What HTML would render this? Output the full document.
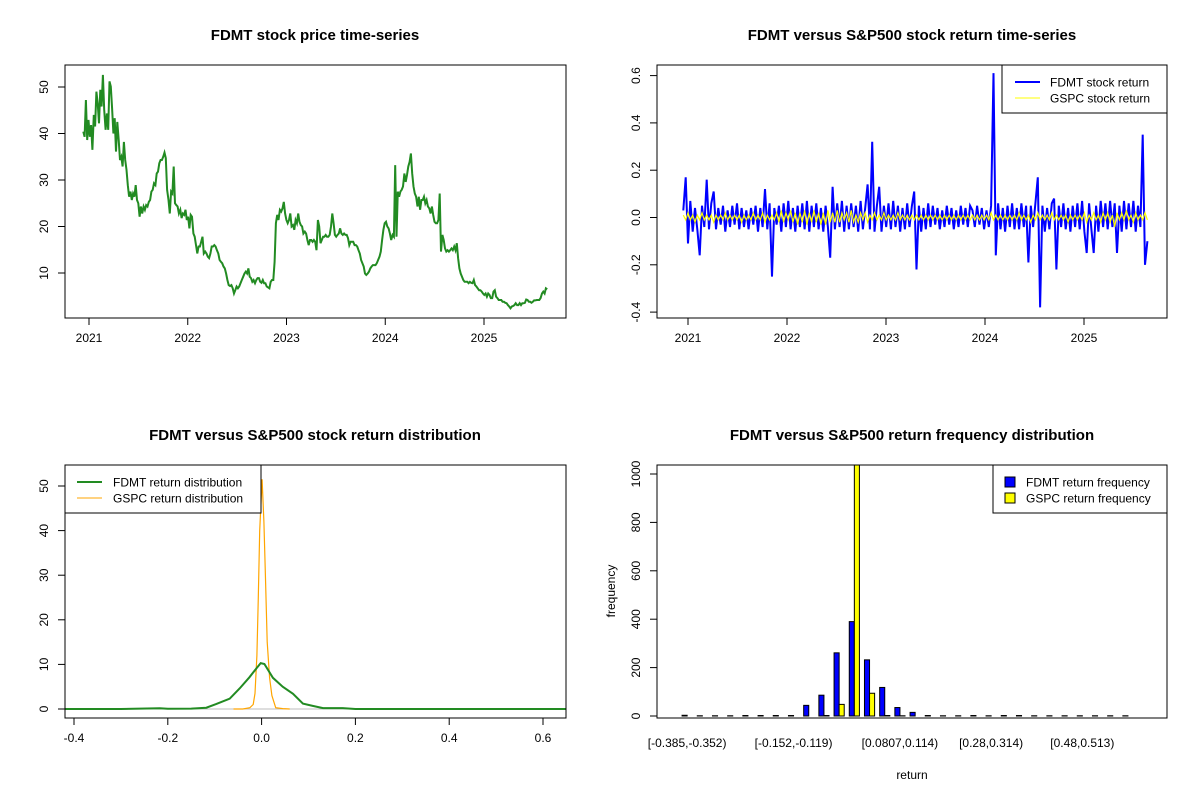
<!DOCTYPE html>
<html><head><meta charset="utf-8"><style>
body{margin:0;background:#fff;}
svg{display:block;font-family:"Liberation Sans",Arial,sans-serif;}
</style></head><body>
<svg id="s" width="1200" height="800" viewBox="0 0 1200 800"></svg>
<script>
// ---- Panel 1 data: FDMT price (uniformly spaced trading samples) ----
const priceStart = 2020.942, priceEnd = 2025.64;
const fdmtPrice = [40.4,39.3,47.2,38.6,42.9,39.3,41.8,36.5,44.0,41.5,49.0,46.5,42.2,49.4,45.8,52.6,45.1,40.8,44.3,40.8,51.2,50.1,45.4,40.0,43.3,36.1,42.5,38.6,34.3,35.0,32.9,38.2,34.3,32.2,28.9,26.4,27.5,25.7,27.1,26.4,28.9,25.7,25.0,22.1,24.3,22.8,24.3,23.6,24.6,24.3,25.3,25.7,27.5,27.9,29.3,28.9,31.4,31.8,33.6,34.3,34.3,35.0,35.9,34.7,27.9,25.7,22.8,27.5,27.1,32.9,25.0,24.6,24.3,22.8,23.6,21.8,22.8,22.5,23.6,21.4,22.1,19.6,22.5,22.1,18.5,17.8,16.0,14.2,15.7,15.7,16.7,17.8,14.2,14.6,14.2,13.5,13.2,14.2,15.7,15.7,16.0,15.7,14.9,14.2,12.8,12.4,12.1,11.4,11.0,9.9,8.5,7.4,7.2,7.4,6.7,5.6,6.3,7.1,6.7,7.1,7.8,8.5,9.2,9.9,10.3,9.9,11.0,9.2,8.9,8.1,8.5,7.8,8.5,8.9,8.9,8.1,7.9,8.5,7.8,7.8,7.1,6.9,6.7,8.1,8.5,8.5,12.4,20.7,22.5,21.4,23.6,23.2,23.9,25.3,22.8,21.4,20.7,21.4,22.8,20.0,20.3,19.3,21.4,20.7,22.8,21.0,20.3,20.0,18.5,18.9,18.5,17.1,16.0,17.1,17.1,16.7,17.1,16.7,14.9,21.4,20.0,16.4,17.1,17.8,17.8,18.2,17.8,17.8,18.2,20.0,22.8,20.7,18.2,17.8,18.2,18.5,19.6,18.5,18.2,18.5,18.2,18.2,17.5,16.0,16.7,16.7,16.7,16.0,16.0,15.7,14.9,14.2,12.8,12.1,11.4,9.9,9.6,9.9,10.3,11.0,11.4,11.7,11.7,11.7,12.1,12.8,13.5,14.6,17.1,19.3,20.7,21.0,20.0,19.6,18.5,17.1,18.2,17.8,33.2,17.8,27.5,26.4,27.5,27.9,28.6,31.4,29.6,31.1,32.9,33.9,35.7,31.4,28.6,27.1,26.4,24.3,26.4,23.6,25.7,25.7,26.4,25.0,25.7,24.3,23.9,22.8,24.3,22.5,21.0,20.7,20.7,21.4,27.1,14.6,18.2,17.1,15.3,14.6,14.9,14.6,14.9,15.3,14.9,15.7,14.9,16.4,13.2,11.0,9.9,9.2,8.5,8.1,8.1,8.1,7.8,8.1,7.9,7.8,8.5,7.4,7.1,6.7,6.3,6.3,6.0,5.6,5.3,5.6,4.9,5.6,5.3,4.6,4.6,6.0,6.3,4.9,4.6,4.2,4.2,4.2,3.8,3.8,3.6,3.5,3.1,2.8,2.4,2.8,2.9,3.1,3.5,3.1,3.1,3.5,3.1,3.5,3.5,3.6,4.3,4.2,3.8,3.8,3.6,3.8,4.1,4.1,4.2,4.2,4.2,4.6,5.6,6.0,5.6,6.7,6.5];
const priceTicksY = [10,20,30,40,50];
const yearTicks = [2021,2022,2023,2024,2025];

// ---- Panel 2 data: returns ----
const retStart = 2020.953, retEnd = 2025.64;
const fdmtReturn = [0.03,0.17,-0.11,0.07,-0.06,0.04,-0.05,-0.16,0.05,-0.04,
0.16,-0.05,0.06,0.11,-0.05,0.04,-0.03,0.05,-0.06,0.03,
-0.04,0.05,-0.03,0.06,-0.05,0.04,-0.04,0.03,-0.05,0.04,
-0.03,0.05,-0.06,0.04,-0.04,0.12,-0.05,0.06,-0.25,0.04,
-0.03,0.05,-0.06,0.06,-0.04,0.07,-0.05,0.04,-0.06,0.05,
-0.04,0.06,-0.05,0.07,-0.06,0.05,-0.04,0.06,-0.05,0.04,
-0.06,0.05,-0.04,-0.17,0.13,-0.05,0.06,-0.04,0.07,-0.06,
0.05,-0.05,0.06,-0.04,0.05,-0.06,0.07,-0.05,0.04,0.14,
-0.05,0.32,-0.06,0.05,0.13,-0.06,0.05,-0.04,0.06,-0.05,
0.07,-0.04,0.05,-0.06,0.04,-0.05,0.06,-0.04,0.05,0.11,
-0.22,0.05,-0.06,0.04,-0.05,0.06,-0.04,0.05,-0.03,0.04,
-0.05,0.03,-0.04,0.05,-0.03,0.04,-0.05,0.03,-0.04,0.05,
-0.03,0.04,-0.04,0.05,0.03,-0.04,0.05,-0.03,0.04,-0.05,
0.03,-0.04,0.05,0.61,-0.16,0.06,-0.05,0.04,-0.06,0.05,
-0.04,0.06,-0.05,0.04,-0.05,0.06,-0.04,0.05,-0.19,0.05,
-0.04,0.06,0.17,-0.38,0.05,-0.06,0.04,-0.05,0.06,0.08,
-0.22,0.05,-0.04,0.06,-0.05,0.04,-0.06,0.05,-0.04,0.06,
-0.05,0.07,-0.06,-0.15,0.06,-0.05,-0.15,0.05,-0.06,0.07,
-0.04,0.06,-0.05,0.07,-0.04,0.06,-0.15,0.05,-0.06,0.07,
-0.05,0.06,-0.04,0.07,-0.06,0.05,-0.04,0.35,-0.2,-0.1];
const gspcReturn = [0.01,-0.01,0.02,-0.01,0.01,-0.02,0.01,-0.01,0.02,-0.01,
0.01,-0.01,0.01,-0.02,0.01,-0.01,0.01,-0.01,0.02,-0.01,
0.01,-0.01,0.01,-0.01,0.01,-0.02,0.01,-0.01,0.01,-0.01,
0.02,-0.01,0.01,-0.01,0.02,-0.02,0.01,-0.01,0.01,-0.01,
0.02,-0.02,0.03,-0.02,0.02,-0.01,0.03,-0.02,0.02,-0.03,
0.02,-0.02,0.03,-0.03,0.02,-0.02,0.03,-0.02,0.02,-0.03,
0.02,-0.03,0.03,-0.02,0.02,-0.02,0.03,-0.02,0.02,-0.01,
0.02,-0.02,0.03,-0.02,0.01,-0.02,0.02,-0.01,0.02,-0.02,
0.01,-0.01,0.02,-0.01,0.01,-0.01,0.02,-0.01,0.01,-0.01,
0.01,-0.01,0.02,-0.01,0.01,-0.01,0.01,-0.01,0.01,-0.01,
0.01,-0.01,0.01,-0.01,0.01,-0.01,0.01,-0.01,0.01,-0.01,
0.01,-0.01,0.01,-0.01,0.01,-0.01,0.01,-0.01,0.01,-0.01,
0.01,-0.01,0.01,-0.01,0.01,-0.01,0.01,-0.01,0.01,-0.01,
0.01,-0.01,0.02,-0.01,0.01,-0.01,0.01,-0.01,0.01,-0.01,
0.01,-0.01,0.01,-0.01,0.02,-0.01,0.01,-0.01,0.01,-0.02,
0.01,-0.01,0.02,-0.01,0.01,-0.01,0.01,-0.01,0.02,-0.01,
0.01,-0.01,0.01,-0.01,0.01,-0.02,0.01,-0.01,0.01,-0.01,
0.01,-0.01,0.02,-0.02,0.01,-0.01,0.02,-0.01,0.01,-0.02,
0.02,-0.01,0.02,-0.02,0.01,-0.04,0.02,-0.01,0.02,-0.01,
0.03,-0.01,0.01,-0.02,0.02,-0.01,0.01,-0.01,0.02,-0.01];
const retTicksY = [-0.4,-0.2,0.0,0.2,0.4,0.6];

// ---- Panel 3 data: densities ----
const fdmtDensX = [-0.42,-0.3,-0.217,-0.2,-0.15,-0.118,-0.097,-0.068,-0.047,-0.026,-0.011,-0.002,0.006,0.024,0.045,0.067,0.088,0.109,0.131,0.173,0.2,0.4,0.65];
const fdmtDensY = [0,0,0.15,0.05,0.1,0.3,1.1,2.3,4.6,7.1,9.1,10.3,10.1,7.0,5.0,3.4,1.2,0.7,0.2,0.2,0,0,0];
const gspcDensX = [-0.06,-0.04,-0.025,-0.018,-0.014,-0.01,-0.007,-0.004,0.001,0.005,0.008,0.012,0.017,0.022,0.03,0.045,0.06];
const gspcDensY = [0,0,0.3,1,3.5,12,25,40,51.5,42,30,15,7,3,0.3,0.1,0];
const densTicksX = [-0.4,-0.2,0,0.2,0.4,0.6];
const densTicksY = [0,10,20,30,40,50];

// ---- Panel 4 data: histogram ----
const binLabels = ["[-0.385,-0.352)","[-0.152,-0.119)","[0.0807,0.114)","[0.28,0.314)","[0.48,0.513)"];
const binLabelIdx = [0,7,14,20,26];
const fdmtCounts = [3,1,1,1,2,2,2,2,44,86,261,390,232,118,35,15,2,1,1,2,1,2,2,1,1,1,1,1,1,1];
const gspcCounts = [0,0,0,0,0,0,0,0,0,2,48,1040,94,2,1,0,0,0,0,0,0,0,0,0,0,0,0,0,0,0];
const freqTicksY = [0,200,400,600,800,1000];

const NS="http://www.w3.org/2000/svg";
const svg=document.getElementById('s');
function mk(tag,attrs,parent){const e=document.createElementNS(NS,tag);for(const k in attrs)e.setAttribute(k,attrs[k]);(parent||svg).appendChild(e);return e;}
function txt(x,y,s,size,opts,parent){const t=mk('text',Object.assign({x:x,y:y,'font-size':size,'text-anchor':'middle',fill:'#000'},opts||{}),parent);t.textContent=s;return t;}
function fmt(v){return (Math.round(v*10)/10).toFixed(1);}

// clip paths
const defs=mk('defs',{});
[[65,65,501,253],[657,65,510,253],[65,465,501,253],[657,465,510,253]].forEach((b,i)=>{
  const c=mk('clipPath',{id:'c'+i},defs);mk('rect',{x:b[0],y:b[1],width:b[2],height:b[3]},c);
});

function frame(x,y,w,h,name){
  const r=mk('rect',{x:x,y:y,width:w,height:h,fill:'none',stroke:'#000','stroke-width':1});
  
  
}
function yAxis(g,x,ticks,fy,labelFn){
  ticks.forEach(v=>{const y=fy(v);mk('line',{x1:x,x2:x-7,y1:y,y2:y,stroke:'#000'},g);
    txt(x-17,y,labelFn(v),12,{transform:`rotate(-90 ${x-17} ${y})`},g);});
  mk('line',{x1:x,x2:x,y1:fy(ticks[0]),y2:fy(ticks[ticks.length-1]),stroke:'#000'},g);
}
function xAxis(g,y,ticks,fx,labelFn){
  ticks.forEach(v=>{const x=fx(v);mk('line',{x1:x,x2:x,y1:y,y2:y+7,stroke:'#000'},g);
    txt(x,y+24,labelFn(v),12,{},g);});
  mk('line',{y1:y,y2:y,x1:fx(ticks[0]),x2:fx(ticks[ticks.length-1]),stroke:'#000'},g);
}

// ===== Panel 1 =====
{
const g=mk('g',{});


const fx=t=>89+(t-2021)*98.75, fy=v=>319.5-v*4.65;
const t1=txt(315,40,'FDMT stock price time-series',15,{'font-weight':'bold'},g);


frame(65,65,501,253,'price-plot-box');
const ya=mk('g',{},g);
yAxis(ya,65,priceTicksY,fy,v=>String(v));
const xa=mk('g',{},g);
xAxis(xa,318,yearTicks,fx,v=>String(v));
const n=fdmtPrice.length;
const pts=fdmtPrice.map((v,i)=>fx(priceStart+(priceEnd-priceStart)*i/(n-1)).toFixed(1)+','+fy(v).toFixed(1)).join(' ');
const pl=mk('polyline',{points:pts,fill:'none',stroke:'#228B22','stroke-width':2,'clip-path':'url(#c0)'},g);


}

// ===== Panel 2 =====
{
const g=mk('g',{});


const fx=t=>688+(t-2021)*99, fy=v=>217.5-v*236.5;
const t1=txt(912,40,'FDMT versus S&P500 stock return time-series',15,{'font-weight':'bold'},g);


frame(657,65,510,253,'return-plot-box');
const ya=mk('g',{},g);
yAxis(ya,657,retTicksY,fy,v=>fmt(v));
const xa=mk('g',{},g);
xAxis(xa,318,yearTicks,fx,v=>String(v));
const n=fdmtReturn.length;
const p1=fdmtReturn.map((v,i)=>fx(retStart+(retEnd-retStart)*i/(n-1)).toFixed(1)+','+fy(v).toFixed(1)).join(' ');
const l1=mk('polyline',{points:p1,fill:'none',stroke:'#0000FF','stroke-width':2,'clip-path':'url(#c1)'},g);


const m=gspcReturn.length;
const p2=gspcReturn.map((v,i)=>fx(retStart+(retEnd-retStart)*i/(m-1)).toFixed(1)+','+fy(v).toFixed(1)).join(' ');
const l2=mk('polyline',{points:p2,fill:'none',stroke:'#FFFF00','stroke-width':1.2,'clip-path':'url(#c1)'},g);


const lg=mk('g',{},g);
mk('rect',{x:1002,y:65,width:165,height:48,fill:'#fff',stroke:'#000'},lg);
mk('line',{x1:1015,x2:1040,y1:82,y2:82,stroke:'#0000FF','stroke-width':2},lg);
mk('line',{x1:1015,x2:1040,y1:98,y2:98,stroke:'#FFFF00','stroke-width':1},lg);
txt(1050,86.5,'FDMT stock return',12,{'text-anchor':'start'},lg);
txt(1050,102.5,'GSPC stock return',12,{'text-anchor':'start'},lg);
}

// ===== Panel 3 =====
{
const g=mk('g',{});


const fx=v=>261.6+v*469, fy=v=>709-v*4.46;
const t1=txt(315,440,'FDMT versus S&P500 stock return distribution',15,{'font-weight':'bold'},g);


frame(65,465,501,253,'density-plot-box');
const ya=mk('g',{},g);
yAxis(ya,65,densTicksY,fy,v=>String(v));
const xa=mk('g',{},g);
xAxis(xa,718,densTicksX,fx,v=>v===0?'0.0':fmt(v));
mk('line',{x1:65,x2:566,y1:fy(0),y2:fy(0),stroke:'#bebebe','clip-path':'url(#c2)'},g);
const p2=gspcDensX.map((x,i)=>fx(x).toFixed(1)+','+fy(gspcDensY[i]).toFixed(1)).join(' ');
const l2=mk('polyline',{points:p2,fill:'none',stroke:'#FFA500','stroke-width':1.2,'clip-path':'url(#c2)'},g);


const p1=fdmtDensX.map((x,i)=>fx(x).toFixed(1)+','+fy(fdmtDensY[i]).toFixed(1)).join(' ');
const l1=mk('polyline',{points:p1,fill:'none',stroke:'#228B22','stroke-width':2,'clip-path':'url(#c2)'},g);


const lg=mk('g',{},g);
mk('rect',{x:65,y:465,width:196,height:48,fill:'#fff',stroke:'#000'},lg);
mk('line',{x1:77,x2:102,y1:482,y2:482,stroke:'#228B22','stroke-width':2},lg);
mk('line',{x1:77,x2:102,y1:498,y2:498,stroke:'#FFA500','stroke-width':1},lg);
txt(113,486.5,'FDMT return distribution',12,{'text-anchor':'start'},lg);
txt(113,502.5,'GSPC return distribution',12,{'text-anchor':'start'},lg);
}

// ===== Panel 4 =====
{
const g=mk('g',{});


const fy=v=>716-v*0.242;
const u=5.07, x0=677, step=15.2;
const t1=txt(912,440,'FDMT versus S&P500 return frequency distribution',15,{'font-weight':'bold'},g);


const ya=mk('g',{},g);
yAxis(ya,657,freqTicksY,fy,v=>String(v));
const bars=mk('g',{'clip-path':'url(#c3)'},g);
fdmtCounts.forEach((c,i)=>{
  const xb=x0+i*step+u;
  const r=mk('rect',{x:xb,y:fy(c),width:u,height:fy(0)-fy(c),fill:'#0000FF',stroke:'#000','stroke-width':1},bars);
  
  
  const c2=gspcCounts[i];
  const r2=mk('rect',{x:xb+u,y:fy(c2),width:u,height:fy(0)-fy(c2),fill:'#FFFF00',stroke:'#000','stroke-width':1},bars);
  
  
});
frame(657,465,510,253,'histogram-plot-box');
const xl=mk('g',{},g);
binLabelIdx.forEach((k,j)=>{txt(x0+k*step+2*u,747,binLabels[j],12,{},xl);});
const xt=txt(912,779,'return',12,{},g);


const yt=txt(615,591,'frequency',12,{transform:'rotate(-90 615 591)'},g);


const lg=mk('g',{},g);
mk('rect',{x:993,y:465,width:174,height:48,fill:'#fff',stroke:'#000'},lg);
mk('rect',{x:1005,y:477,width:10,height:10,fill:'#0000FF',stroke:'#000'},lg);
mk('rect',{x:1005,y:493,width:10,height:10,fill:'#FFFF00',stroke:'#000'},lg);
txt(1026,486.5,'FDMT return frequency',12,{'text-anchor':'start'},lg);
txt(1026,502.5,'GSPC return frequency',12,{'text-anchor':'start'},lg);
}
</script>
</body></html>
